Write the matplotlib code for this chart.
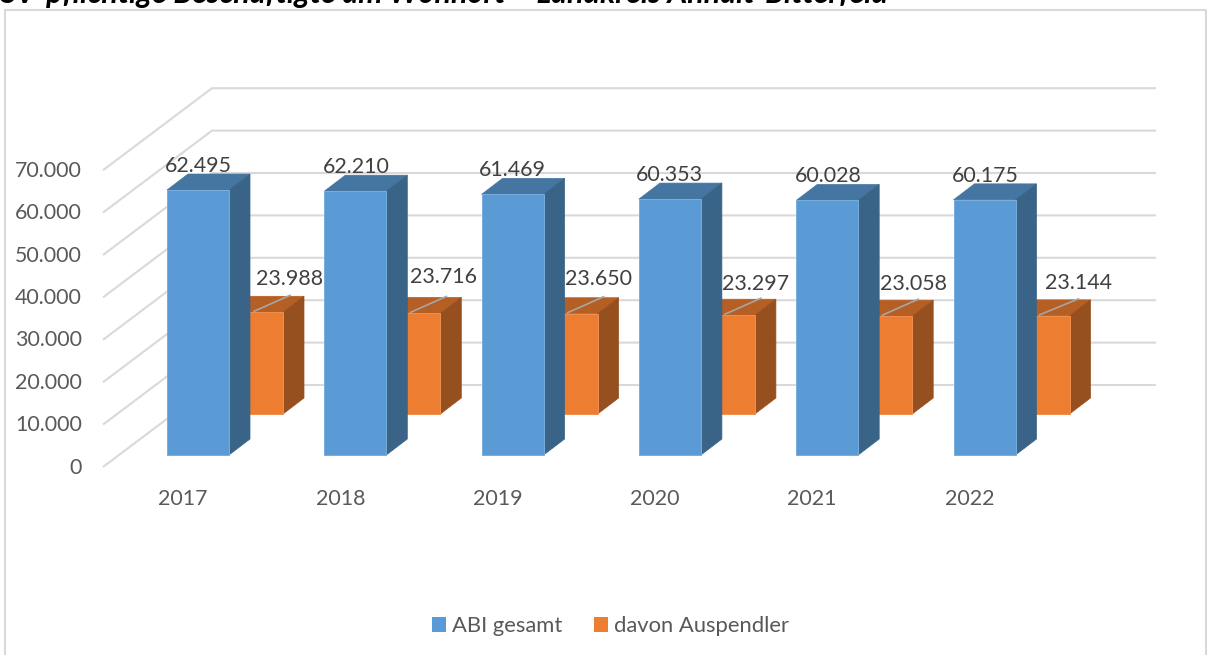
# -*- coding: utf-8 -*-
"""
plot.py
3D-style column chart, pendler numbers per year
"""
import matplotlib
matplotlib.use("Agg")
import matplotlib.pyplot as plt
from matplotlib.patches import Patch, Polygon, Rectangle

plt.rcParams['font.family'] = ['Lato', 'DejaVu Sans']

# --- data ---
years = ["2017", "2018", "2019", "2020", "2021", "2022"]
abi_gesamt = [62495, 62210, 61469, 60353, 60028, 60175]
auspendler = [23988, 23716, 23650, 23297, 23058, 23144]
y_ticks = [0, 10000, 20000, 30000, 40000, 50000, 60000, 70000]
title = "SV-pflichtige Beschäftigte am Wohnort – Landkreis Anhalt-Bitterfeld"

# --- scale: one category and one unit of value in pixels ---
W, H = 1211, 655
CAT_PX = 157.3
VAL_PX = 0.00424
X0_PX = 167      # left edge of first blue column
Y0_PX = 455      # foot of the blue columns

fig = plt.figure(figsize=(W / 100, H / 100), dpi=100)
ax = fig.add_axes([0, 0, 1, 1])
ax.set_xlim(-X0_PX / CAT_PX, (W - X0_PX) / CAT_PX)
ax.set_ylim((Y0_PX - H) / VAL_PX, Y0_PX / VAL_PX)
ax.axis("off")


def dx(px):
    return px / CAT_PX


def dy(px):
    return px / VAL_PX


def column(x, foot, value, width, depth, front, top, side, edge):
    """front face + top + side, offsets in pixels"""
    x0 = x
    x1 = x + dx(width)
    y0 = foot
    y1 = foot + value
    ox, oy = dx(depth[0]), dy(depth[1])
    ax.add_patch(Polygon([(x0, y1), (x1, y1), (x1 + ox, y1 + oy), (x0 + ox, y1 + oy)],
                         facecolor=top, edgecolor=top, lw=0.5, zorder=3))
    ax.add_patch(Polygon([(x1, y0), (x1 + ox, y0 + oy), (x1 + ox, y1 + oy), (x1, y1)],
                         facecolor=side, edgecolor=side, lw=0.5, zorder=3))
    ax.add_patch(Rectangle((x0, y0), x1 - x0, value,
                           facecolor=front, edgecolor=edge, lw=0.7, zorder=3))


# --- walls / grid ---
for v in y_ticks:
    y_front = v - dy(12)
    y_back = y_front + dy(82)
    ax.plot([dx(-64), dx(45), dx(989)], [y_front, y_back, y_back],
            color="#d9d9d9", lw=1.5, zorder=1, solid_capstyle="butt")
    ax.text(dx(-85), y_front + dy(-0.5), f"{v:,}".replace(",", "."), ha="right", va="center",
            fontsize=15.4, color="#595959")

# --- columns ---
blue = dict(front="#5b9bd5", top="#4575a1", side="#396387", edge="#78aede")
orange = dict(front="#ed7d31", top="#b55f25", side="#964f1e", edge="#f08f4f")
for i in range(len(years)):
    column(i + dx(54), dy(41), auspendler[i], 62, (21, 16), **orange)
for i in range(len(years)):
    column(i, 0, abi_gesamt[i], 62, (21, 16), **blue)
    ax.text(i + dx(16), dy(-44), years[i], ha="center", va="center",
            fontsize=15.4, color="#595959")

# --- data labels, hand placed in the original (offset from the column top, pixels) ---
blue_lab_x = [31, 32, 31, 31, 32, 32]
blue_lab_y = [24, 24, 24, 24, 24, 24]
orange_lab_x = [123, 119, 117, 117, 117, 125]
orange_lab_y = [33, 36, 35, 31, 32, 33]
line_start_x = [87, 86, 86, 86, 86, 86]
line_end_x = [123, 122, 122, 122, 122, 125]
for i in range(len(years)):
    ax.text(i + dx(blue_lab_x[i]), abi_gesamt[i] + dy(blue_lab_y[i]), f"{abi_gesamt[i]:,}".replace(",", "."),
            ha="center", va="center", fontsize=15.4, color="#404040", zorder=5)
    top = dy(41) + auspendler[i]
    ax.text(i + dx(orange_lab_x[i]), top + dy(orange_lab_y[i]), f"{auspendler[i]:,}".replace(",", "."),
            ha="center", va="center", fontsize=15.4, color="#404040", zorder=5)
    ax.plot([i + dx(line_start_x[i]), i + dx(line_end_x[i])],
            [top + dy(1), top + dy(17)], color="#a6a6a6", lw=1.2, zorder=4)

# --- frame + clipped heading ---
ax.plot([dx(-162), dx(-162), dx(1039), dx(1039)],
        [(Y0_PX - H) / VAL_PX, dy(445), dy(445), (Y0_PX - H) / VAL_PX],
        color="#d9d9d9", lw=1.5, zorder=1)
ax.text(dx(-167), dy(452), title, ha="left", va="baseline", fontsize=22, fontweight="bold",
        fontstyle="italic", color="black", family=["Lato", "DejaVu Sans"])

handles = [Patch(facecolor="#5b9bd5", label="ABI gesamt"),
           Patch(facecolor="#ed7d31", label="davon Auspendler")]
ax.legend(handles=handles, ncol=2, frameon=False, loc="center",
          bbox_to_anchor=(610.5 / W, 1 - 626 / H), bbox_transform=fig.transFigure,
          fontsize=15.8, labelcolor="#595959", handlelength=0.65, handleheight=0.65,
          handletextpad=0.3, columnspacing=1.4)

fig.savefig("out.png", dpi=100)
